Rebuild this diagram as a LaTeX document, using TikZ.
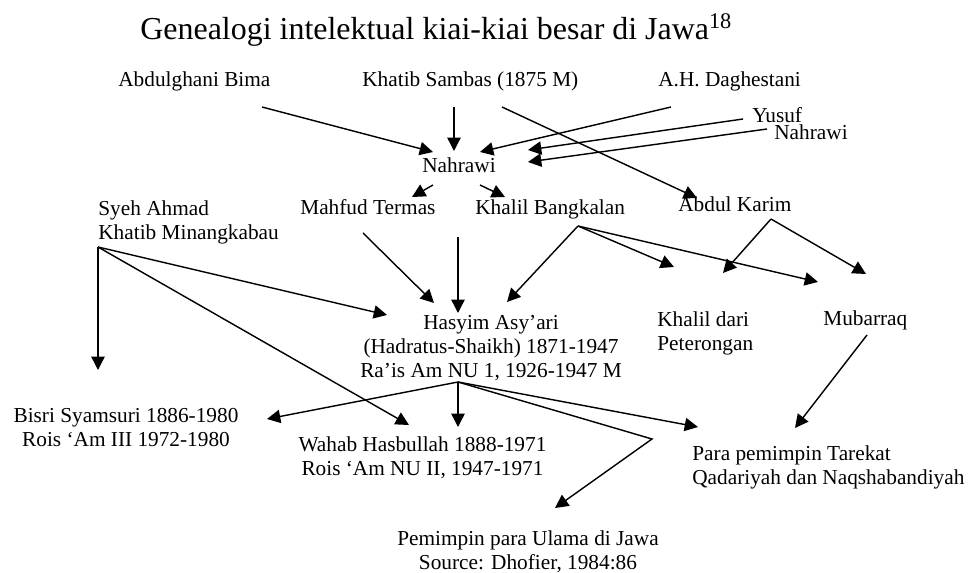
\documentclass[tikz,border=0pt]{standalone}
\usepackage{fontspec}
\setmainfont{Liberation Serif}
\usetikzlibrary{arrows.meta}
\begin{document}
\begin{tikzpicture}[x=0.5634pt,y=-0.5634pt,
  lbl/.style={inner sep=0pt,font=\fontsize{12pt}{13.8pt}\selectfont},
  arr/.style={line width=0.8pt,-{Triangle[length=7.5pt,width=7.5pt]}},
  ln/.style={line width=0.8pt}]
\useasboundingbox (0,0) rectangle (969,573);
% title
\node[inner sep=0pt,anchor=base west,font=\fontsize{18pt}{21pt}\selectfont] (title) at (140,40) {Genealogi intelektual kiai-kiai besar di Jawa\textsuperscript{18}};
% nodes (multi-line nodes are anchored at the baseline of their last line)
\node[lbl,anchor=base west] (abdulghani) at (118,87) {Abdulghani Bima};
\node[lbl,anchor=base west] (khatib) at (362,87) {Khatib Sambas (1875 M)};
\node[lbl,anchor=base west] (daghestani) at (658,87) {A.H. Daghestani};
\node[lbl,anchor=base west] (yusuf) at (752,123) {Yusuf};
\node[lbl,anchor=base west] (nahrawiB) at (774,140) {Nahrawi};
\node[lbl,anchor=base west] (nahrawi) at (422,173) {Nahrawi};
\node[lbl,anchor=base west] (mahfud) at (300,215) {Mahfud Termas};
\node[lbl,anchor=base west] (khalilB) at (475,215) {Khalil Bangkalan};
\node[lbl,anchor=base west] (karim) at (678,212) {Abdul Karim};
\node[lbl,anchor=base west,align=left] (syeh) at (98,240) {Syeh Ahmad\\Khatib Minangkabau};
\node[lbl,anchor=base,align=center] (hasyim) at (491,378) {Hasyim Asy’ari\\(Hadratus-Shaikh) 1871-1947\\Ra’is Am NU 1, 1926-1947 M};
\node[lbl,anchor=base west,align=left] (khalilD) at (657,351) {Khalil dari\\Peterongan};
\node[lbl,anchor=base west] (mubarraq) at (823,326) {Mubarraq};
\node[lbl,anchor=base,align=center] (bisri) at (126,447) {Bisri Syamsuri 1886-1980\\Rois ‘Am III 1972-1980};
\node[lbl,anchor=base,align=center] (wahab) at (422.5,476) {Wahab Hasbullah 1888-1971\\Rois ‘Am NU II, 1947-1971};
\node[lbl,anchor=base west,align=left] (para) at (692,485) {Para pemimpin Tarekat\\Qadariyah dan Naqshabandiyah};
\node[lbl,anchor=base,align=center] (pemimpin) at (528,570) {Pemimpin para Ulama di Jawa\\Source: Dhofier, 1984:86};
% connector end points
\coordinate (abdulghaniOut) at (262,107);
\coordinate (khatibOut) at (454,107);
\coordinate (khatibOutB) at (502,107);
\coordinate (daghOut) at (671,107);
\coordinate (yusufOut) at (743,119);
\coordinate (nahrawiBOut) at (767,129);
\coordinate (nahIn1) at (433,152);
\coordinate (nahIn2) at (454,151);
\coordinate (nahIn3) at (480,152);
\coordinate (nahIn4) at (528,150);
\coordinate (nahIn5) at (528,162);
\coordinate (karimIn) at (697,198);
\coordinate (nahOutL) at (433,185);
\coordinate (nahOutR) at (480,185);
\coordinate (mahfudIn) at (412,197);
\coordinate (khalilBIn) at (505,197);
\coordinate (nahDown) at (458,237);
\coordinate (mahfudOut) at (363,233);
\coordinate (khalilBOut) at (578,226);
\coordinate (karimOut) at (771,219);
\coordinate (syehOut) at (98,247);
\coordinate (hasIn1) at (387,315);
\coordinate (hasIn2) at (434,303);
\coordinate (hasIn3) at (458,313);
\coordinate (hasIn4) at (507,302);
\coordinate (khalilDIn1) at (674,267);
\coordinate (khalilDIn2) at (723,273);
\coordinate (mubIn1) at (818,282);
\coordinate (mubIn2) at (866,274);
\coordinate (syehDown) at (98,370);
\coordinate (wahabIn1) at (409,425);
\coordinate (hasOut) at (458,382);
\coordinate (bisriIn) at (267,419);
\coordinate (wahabIn2) at (458,427);
\coordinate (paraIn1) at (698,427);
\coordinate (bend) at (652,439);
\coordinate (pemimpinIn) at (555,508);
\coordinate (mubOut) at (867,335);
\coordinate (paraIn2) at (795,428);
% connectors
\draw[arr] (abdulghaniOut) -- (nahIn1);
\draw[arr] (khatibOut) -- (nahIn2);
\draw[arr] (khatibOutB) -- (karimIn);
\draw[arr] (daghOut) -- (nahIn3);
\draw[arr] (yusufOut) -- (nahIn4);
\draw[arr] (nahrawiBOut) -- (nahIn5);
\draw[arr] (nahOutL) -- (mahfudIn);
\draw[arr] (nahOutR) -- (khalilBIn);
\draw[arr] (nahDown) -- (hasIn3);
\draw[arr] (mahfudOut) -- (hasIn2);
\draw[arr] (khalilBOut) -- (hasIn4);
\draw[arr] (khalilBOut) -- (khalilDIn1);
\draw[arr] (khalilBOut) -- (mubIn1);
\draw[arr] (karimOut) -- (khalilDIn2);
\draw[arr] (karimOut) -- (mubIn2);
\draw[arr] (syehOut) -- (syehDown);
\draw[arr] (syehOut) -- (hasIn1);
\draw[arr] (syehOut) -- (wahabIn1);
\draw[arr] (hasOut) -- (bisriIn);
\draw[arr] (hasOut) -- (wahabIn2);
\draw[arr] (hasOut) -- (paraIn1);
\draw[arr] (hasOut) -- (bend) -- (pemimpinIn);
\draw[arr] (mubOut) -- (paraIn2);
\end{tikzpicture}
\end{document}
